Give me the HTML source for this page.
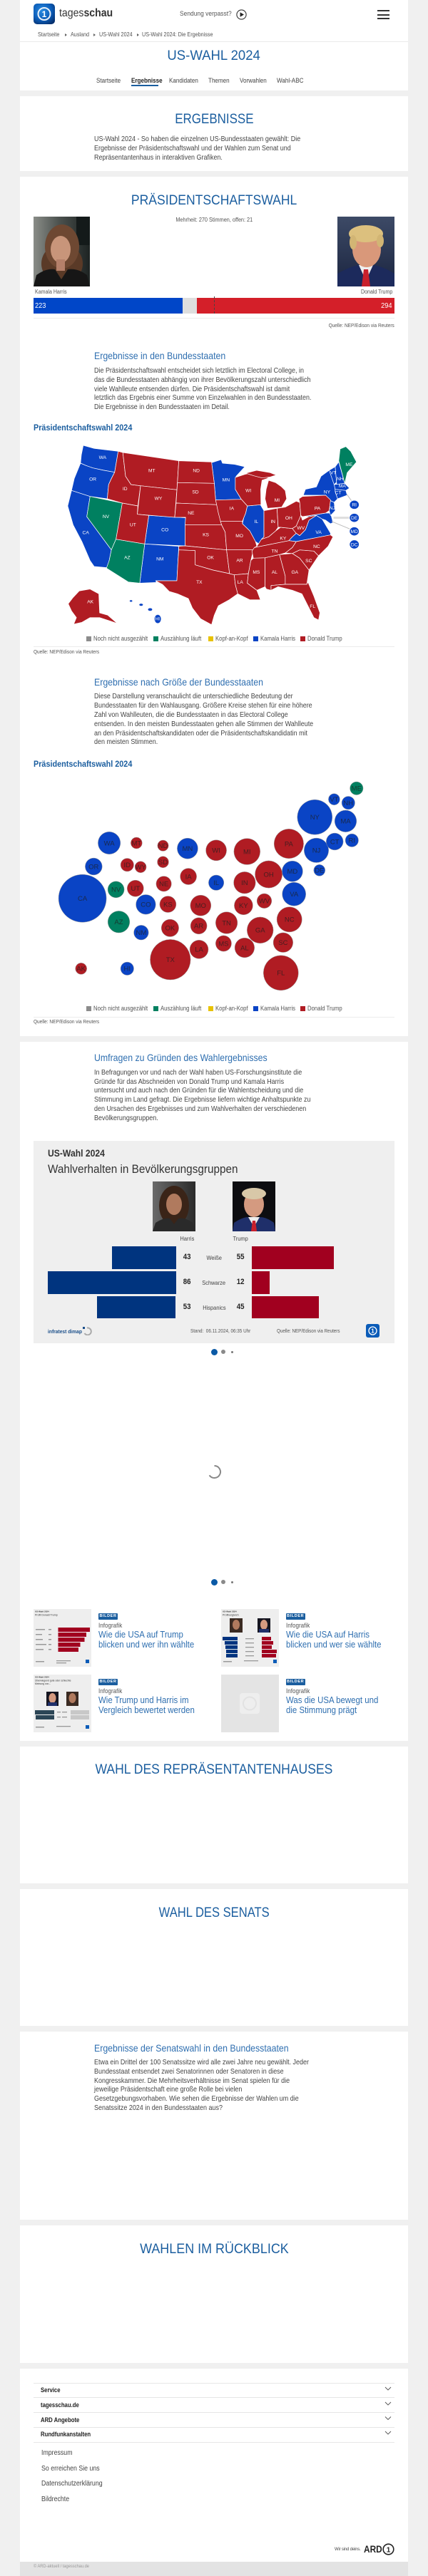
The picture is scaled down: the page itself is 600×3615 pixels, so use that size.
<!DOCTYPE html>
<html><head><meta charset="utf-8">
<style>
*{margin:0;padding:0;box-sizing:border-box}
html,body{width:600px;height:3615px;overflow:hidden;background:#f0f0f0;font-family:"Liberation Sans",Arial,sans-serif;color:#444;position:relative}
.w{position:absolute;left:28px;width:544px;background:#fff}
.t{position:absolute;white-space:nowrap;transform-origin:0 50%;transform:scaleX(.88);line-height:1.2}
.r{position:absolute;white-space:nowrap;transform-origin:100% 50%;transform:scaleX(.88);line-height:1.2;text-align:right}
.c{position:absolute;left:0;width:600px;text-align:center;white-space:nowrap;line-height:1.2}
.c span{display:inline-block;transform-origin:50% 50%}
.h{font-size:19.5px;color:#1b5e9f}
.p{font-size:10.2px;line-height:12.8px;color:#444;transform-origin:0 0}
.sh{font-size:14px;color:#2f6fb0}
.bc{font-size:8.2px;color:#555}
.tri{position:absolute;width:0;height:0;border-left:3px solid #666;border-top:2px solid transparent;border-bottom:2px solid transparent}
.nav{font-size:9.2px;color:#444}
.lg{font-size:8.8px;color:#555}
.sq{position:absolute;width:7px;height:7px}
.src{font-size:7.4px;color:#555}
.line{position:absolute;height:1px;background:#ececec}
.badge{position:absolute;width:27px;height:9px;background:#1b5e9f;color:#fff;font-size:5.5px;font-weight:bold;letter-spacing:.6px;text-align:center;line-height:9px;border-radius:1px}
.inf{font-size:9.2px;color:#555}
.ct{font-size:13px;line-height:14px;color:#2f6fb0;transform-origin:0 0}
.acc{font-size:8.8px;font-weight:bold;color:#222}
.lk{font-size:10px;color:#444}
.num{font-size:11px;font-weight:bold;color:#222}
.rl{font-size:8.5px;color:#444}
</style></head><body>

<!-- white panels -->
<div class="w" style="top:0;height:127px"></div>
<div class="line" style="left:28px;width:544px;top:58px;background:#e9e9e9"></div>
<div class="w" style="top:135px;height:105px"></div>
<div class="w" style="top:248px;height:1206px"></div>
<div class="w" style="top:1462px;height:981px"></div>
<div class="w" style="top:2451px;height:192px"></div>
<div class="w" style="top:2651px;height:192px"></div>
<div class="w" style="top:2851px;height:264px"></div>
<div class="w" style="top:3123px;height:193px"></div>
<div class="w" style="top:3324px;height:271px"></div>
<div style="position:absolute;left:28px;width:544px;top:3595px;height:20px;background:#e3e3e3"></div>

<!-- header -->
<svg style="position:absolute;left:47px;top:5px" width="30" height="29" viewBox="0 0 30 29">
<defs><radialGradient id="lgb" cx="40%" cy="35%" r="75%"><stop offset="0" stop-color="#2a8be0"/><stop offset=".6" stop-color="#0b5cb8"/><stop offset="1" stop-color="#06306e"/></radialGradient></defs>
<rect width="30" height="29" rx="5" fill="url(#lgb)"/>
<circle cx="15" cy="14.5" r="8.5" fill="none" stroke="#fff" stroke-width="2" opacity=".9"/>
<text x="15" y="19" font-size="12" font-weight="bold" fill="#fff" text-anchor="middle" font-family="Liberation Sans">1</text>
</svg>
<div class="t" style="left:83px;top:9.4px;font-size:16px;color:#333">tages<b>schau</b></div>
<div class="t" style="left:252px;top:14.2px;font-size:9.6px;color:#555">Sendung verpasst?</div>
<svg style="position:absolute;left:331px;top:13px" width="15" height="15" viewBox="0 0 15 15"><circle cx="7.5" cy="7.5" r="6.6" fill="none" stroke="#333" stroke-width="1.1"/><path d="M5.6 4.2 L11 7.5 L5.6 10.8Z" fill="#222"/></svg>
<div style="position:absolute;left:529px;top:14px;width:17px;height:2px;background:#333"></div>
<div style="position:absolute;left:529px;top:19.5px;width:17px;height:2px;background:#333"></div>
<div style="position:absolute;left:529px;top:25px;width:17px;height:2px;background:#333"></div>

<div class="t bc" style="left:53px;top:44.1px">Startseite</div>
<div class="tri" style="left:91px;top:47px"></div>
<div class="t bc" style="left:99px;top:44.1px">Ausland</div>
<div class="tri" style="left:131px;top:47px"></div>
<div class="t bc" style="left:139px;top:44.1px">US-Wahl 2024</div>
<div class="tri" style="left:192px;top:47px"></div>
<div class="t bc" style="left:199px;top:44.1px">US-Wahl 2024: Die Ergebnisse</div>

<div class="c h" style="top:67.3px"><span style="transform:scaleX(.95)">US-WAHL 2024</span></div>
<div class="t nav" style="left:135px;top:107.5px">Startseite</div>
<div class="t nav" style="left:184px;top:107.5px;font-weight:bold;color:#222">Ergebnisse</div>
<div style="position:absolute;left:184px;top:119px;width:38px;height:2px;background:#1b5e9f"></div>
<div class="t nav" style="left:237px;top:107.5px">Kandidaten</div>
<div class="t nav" style="left:292px;top:107.5px">Themen</div>
<div class="t nav" style="left:336px;top:107.5px">Vorwahlen</div>
<div class="t nav" style="left:388px;top:107.5px">Wahl-ABC</div>

<!-- ERGEBNISSE -->
<div class="c h" style="top:156.3px"><span style="transform:scaleX(.87)">ERGEBNISSE</span></div>
<div class="t p" style="left:132px;top:190.1px">US-Wahl 2024 - So haben die einzelnen US-Bundesstaaten gewählt: Die<br>Ergebnisse der Präsidentschaftswahl und der Wahlen zum Senat und<br>Repräsentantenhaus in interaktiven Grafiken.</div>

<!-- PRÄSIDENTSCHAFTSWAHL -->
<div class="c h" style="top:270.3px"><span style="transform:scaleX(.9)">PRÄSIDENTSCHAFTSWAHL</span></div>
<div class="c" style="top:304px;font-size:8.3px;color:#555"><span style="transform:scaleX(.88)">Mehrheit: 270 Stimmen, offen: 21</span></div>

<svg style="position:absolute;left:47px;top:304px" width="79" height="98" viewBox="0 0 79 98">
<defs><linearGradient id="hb" x1="0" x2="1"><stop offset="0" stop-color="#8a8d88"/><stop offset=".45" stop-color="#4c524f"/><stop offset="1" stop-color="#1d2322"/></linearGradient></defs>
<rect width="79" height="98" fill="url(#hb)"/>
<rect x="60" y="0" width="19" height="40" fill="#141a1a"/>
<ellipse cx="40" cy="66" rx="29" ry="28" fill="#5a3a27"/>
<ellipse cx="40" cy="42" rx="24" ry="31" fill="#6e4832"/>
<ellipse cx="38" cy="46" rx="14" ry="19" fill="#c8957a"/>
<rect x="32" y="60" width="12" height="16" fill="#b5806a"/>
<path d="M0 98 L4 82 Q18 72 30 74 L39 88 L48 74 Q62 72 75 82 L79 98Z" fill="#161616"/>
</svg>
<svg style="position:absolute;left:473px;top:304px" width="80" height="98" viewBox="0 0 80 98">
<defs><linearGradient id="tb" x1="0" x2="0" y1="0" y2="1"><stop offset="0" stop-color="#3d4a66"/><stop offset="1" stop-color="#1b2540"/></linearGradient></defs>
<rect width="80" height="98" fill="url(#tb)"/>
<path d="M0 98 L0 80 Q18 70 30 68 L40 90 L50 68 Q64 70 80 80 L80 98Z" fill="#1c2a5c"/>
<path d="M30 68 L40 90 L50 68Z" fill="#eeeeee"/>
<path d="M37 74 L43 74 L46 98 L34 98Z" fill="#c8202c"/>
<ellipse cx="41" cy="46" rx="20" ry="25" fill="#d9987a"/>
<ellipse cx="40" cy="24" rx="24" ry="12" fill="#dcc07e"/>
<ellipse cx="22" cy="36" rx="5" ry="10" fill="#d2b574"/>
<ellipse cx="60" cy="34" rx="5" ry="9" fill="#d2b574"/>
</svg>
<div class="t" style="left:49px;top:405.2px;font-size:8px;color:#555">Kamala Harris</div>
<div class="r" style="right:50px;top:405.2px;font-size:8px;color:#555">Donald Trump</div>
<div style="position:absolute;left:47px;top:418px;width:209px;height:22px;background:#0046c8"></div>
<div style="position:absolute;left:256px;top:418px;width:20px;height:22px;background:#dedede"></div>
<div style="position:absolute;left:276px;top:418px;width:277px;height:22px;background:#d41f29"></div>
<div style="position:absolute;left:300px;top:416px;width:0;height:24px;border-left:1px dashed #444"></div>
<div class="t" style="left:49px;top:422.7px;font-size:10.5px;color:#fff">223</div>
<div class="r" style="right:50px;top:422.7px;font-size:10.5px;color:#fff">294</div>
<div class="line" style="left:47px;width:506px;top:446px"></div>
<div class="r src" style="right:47px;top:452.6px">Quelle: NEP/Edison via Reuters</div>

<div class="t sh" style="left:132px;top:490.6px">Ergebnisse in den Bundesstaaten</div>
<div class="t p" style="left:132px;top:515.1px">Die Präsidentschaftswahl entscheidet sich letztlich im Electoral College, in<br>das die Bundesstaaten abhängig von ihrer Bevölkerungszahl unterschiedlich<br>viele Wahlleute entsenden dürfen. Die Präsidentschaftswahl ist damit<br>letztlich das Ergebnis einer Summe von Einzelwahlen in den Bundesstaaten.<br>Die Ergebnisse in den Bundesstaaten im Detail.</div>
<div class="t" style="left:47px;top:592.6px;font-size:12.3px;font-weight:bold;color:#1b5e9f">Präsidentschaftswahl 2024</div>

<!-- MAP -->
<svg style="position:absolute;left:0;top:600px" width="600" height="300" viewBox="0 0 1568 900" preserveAspectRatio="none">
<g stroke="#fff" stroke-width=".7" stroke-linejoin="round">
<g fill="#0a44c5">
<polygon vector-effect="non-scaling-stroke" points="305,75 345,88 433,100 420,188 380,180 340,170 315,160 295,150 298,115"/>
<polygon vector-effect="non-scaling-stroke" points="295,150 315,160 340,170 380,180 420,188 408,215 398,240 393,300 330,290 262,265 272,215"/>
<polygon vector-effect="non-scaling-stroke" points="262,265 330,290 318,375 408,515 400,560 395,590 345,585 330,560 300,480 268,410 248,330"/>
<polygon vector-effect="non-scaling-stroke" points="545,370 680,380 678,498 530,490"/>
<polygon vector-effect="non-scaling-stroke" points="530,490 655,500 648,645 572,645 572,652 512,655"/>
<polygon vector-effect="non-scaling-stroke" points="775,148 810,135 815,150 860,155 897,165 865,205 862,260 884,302 790,305 785,235"/>
<polygon vector-effect="non-scaling-stroke" points="906,330 954,325 967,350 967,460 949,490 936,480 915,435 888,405 893,380 900,360"/>
<polygon vector-effect="non-scaling-stroke" points="1058,476 1071,460 1085,445 1098,455 1119,430 1132,390 1159,370 1180,385 1193,410 1211,445 1211,452 1085,480"/>
<polygon vector-effect="non-scaling-stroke" points="1108,375 1193,360 1211,360 1220,400 1211,405 1193,390 1180,385 1159,370 1132,375"/>
<polygon vector-effect="non-scaling-stroke" points="1206,305 1224,315 1228,350 1211,370 1206,350"/>
<polygon vector-effect="non-scaling-stroke" points="1111,285 1119,260 1159,250 1176,205 1206,180 1224,178 1228,270 1237,300 1224,315 1206,305 1193,285"/>
<polygon vector-effect="non-scaling-stroke" points="1206,180 1228,165 1233,230 1224,240"/>
<polygon vector-effect="non-scaling-stroke" points="1228,165 1241,145 1263,235 1233,240 1233,230"/>
<polygon vector-effect="non-scaling-stroke" points="1224,240 1263,235 1280,255 1267,265 1228,260"/>
<polygon vector-effect="non-scaling-stroke" points="1228,260 1267,265 1272,285 1237,300 1228,270"/>
<ellipse cx="480" cy="730" rx="5" ry="4"/><ellipse cx="517" cy="746" rx="7" ry="5"/><ellipse cx="550" cy="766" rx="8" ry="6"/><ellipse cx="578" cy="806" rx="12" ry="18"/>
</g>
<g fill="#008060">
<polygon vector-effect="non-scaling-stroke" points="330,290 448,318 425,470 408,515 318,375"/>
<polygon vector-effect="non-scaling-stroke" points="425,470 530,490 512,655 470,650 390,592 400,560 408,515"/>
<polygon vector-effect="non-scaling-stroke" points="1241,140 1246,90 1267,80 1285,100 1306,145 1272,190 1263,235"/>
</g>
<g fill="#b01c23">
<polygon vector-effect="non-scaling-stroke" points="433,100 450,105 460,205 480,240 515,245 505,330 448,318 393,300 398,240 408,215 420,188"/>
<polygon vector-effect="non-scaling-stroke" points="450,105 655,140 650,232 648,262 515,245 480,240 460,205"/>
<polygon vector-effect="non-scaling-stroke" points="515,245 648,262 640,378 503,365"/>
<polygon vector-effect="non-scaling-stroke" points="448,318 505,330 503,365 545,370 530,490 425,470"/>
<polygon vector-effect="non-scaling-stroke" points="655,140 775,145 785,235 650,232"/>
<polygon vector-effect="non-scaling-stroke" points="650,232 785,235 790,305 795,325 645,318"/>
<polygon vector-effect="non-scaling-stroke" points="645,318 795,325 808,395 812,410 678,410 680,378 640,378"/>
<polygon vector-effect="non-scaling-stroke" points="678,410 812,410 825,440 830,515 678,498"/>
<polygon vector-effect="non-scaling-stroke" points="655,500 678,498 830,515 841,615 780,600 715,578 715,518 655,515"/>
<polygon vector-effect="non-scaling-stroke" points="655,515 715,518 715,578 780,600 841,615 858,620 862,660 871,700 840,725 800,750 785,790 775,830 735,805 705,760 690,720 650,700 620,690 595,660 570,645 648,645 652,560"/>
<polygon vector-effect="non-scaling-stroke" points="862,210 897,197 925,190 965,205 985,212 960,222 955,260 956,325 906,330 884,302 862,260"/>
<polygon vector-effect="non-scaling-stroke" points="900,192 940,180 990,190 1012,200 990,208 960,212 930,203"/>
<polygon vector-effect="non-scaling-stroke" points="984,222 1010,232 1030,248 1045,265 1050,300 1032,335 980,340 971,300 975,260"/>
<polygon vector-effect="non-scaling-stroke" points="790,305 884,302 906,330 900,360 893,380 888,395 808,395 800,360"/>
<polygon vector-effect="non-scaling-stroke" points="808,395 888,395 888,405 915,435 936,480 941,500 928,515 830,515 825,440 812,410"/>
<polygon vector-effect="non-scaling-stroke" points="830,515 928,515 919,560 910,615 858,620 841,615"/>
<polygon vector-effect="non-scaling-stroke" points="858,620 910,615 906,655 941,685 954,725 915,725 871,700 862,660"/>
<polygon vector-effect="non-scaling-stroke" points="928,550 971,548 971,670 941,685 906,655 910,615 919,560"/>
<polygon vector-effect="non-scaling-stroke" points="971,548 1024,535 1045,625 1045,660 993,665 993,685 976,680 971,670"/>
<polygon vector-effect="non-scaling-stroke" points="1024,535 1071,530 1098,550 1132,600 1124,660 1045,660 1045,625"/>
<polygon vector-effect="non-scaling-stroke" points="993,665 1045,660 1124,660 1128,650 1150,710 1172,780 1167,810 1150,800 1128,750 1106,700 1071,685 1019,670 993,685"/>
<polygon vector-effect="non-scaling-stroke" points="1071,530 1098,515 1150,520 1167,540 1132,600 1098,550"/>
<polygon vector-effect="non-scaling-stroke" points="1045,528 1071,505 1085,480 1211,452 1220,460 1202,500 1167,540 1150,520 1098,515 1071,530"/>
<polygon vector-effect="non-scaling-stroke" points="932,505 1058,476 1085,480 1071,505 1045,528 1024,535 971,548 928,550 923,520"/>
<polygon vector-effect="non-scaling-stroke" points="941,500 958,470 984,460 1010,435 1028,420 1071,425 1085,445 1071,460 1058,476 932,505"/>
<polygon vector-effect="non-scaling-stroke" points="967,350 1015,340 1019,420 1010,435 984,460 958,470 967,460"/>
<polygon vector-effect="non-scaling-stroke" points="1015,340 1045,335 1085,310 1098,315 1102,370 1085,415 1071,425 1028,420 1019,420"/>
<polygon vector-effect="non-scaling-stroke" points="1102,370 1108,390 1132,375 1159,370 1132,390 1119,430 1098,455 1085,445 1071,425 1085,415"/>
<polygon vector-effect="non-scaling-stroke" points="1095,300 1108,290 1193,285 1211,305 1206,350 1193,360 1108,375 1102,370 1098,315"/>
<polygon vector-effect="non-scaling-stroke" points="290,688 330,680 362,700 365,780 395,790 430,825 405,815 365,800 330,800 300,820 270,828 280,800 262,772 250,742 268,715"/>
</g>
</g>
<g stroke="#bbb" stroke-width="1" vector-effect="non-scaling-stroke">
<line x1="1270" y1="280" x2="1290" y2="312" vector-effect="non-scaling-stroke"/>
<line x1="1222" y1="380" x2="1282" y2="380" stroke="#ddd" stroke-width="3" vector-effect="non-scaling-stroke"/>
<line x1="1215" y1="395" x2="1284" y2="428" vector-effect="non-scaling-stroke"/>
</g>
<g fill="#0a44c5" stroke="#fff" stroke-width="1">
<ellipse cx="1298" cy="325" rx="18" ry="19" vector-effect="non-scaling-stroke"/>
<ellipse cx="1298" cy="380" rx="18" ry="19" vector-effect="non-scaling-stroke"/>
<ellipse cx="1298" cy="437" rx="18" ry="19" vector-effect="non-scaling-stroke"/>
<ellipse cx="1298" cy="492" rx="18" ry="19" vector-effect="non-scaling-stroke"/>
</g>
<g font-size="20" fill="#fff" text-anchor="middle" font-family="Liberation Sans, sans-serif">
<text transform="translate(376,132) scale(.871,1)">WA</text>
<text transform="translate(340,223) scale(.871,1)">OR</text>
<text transform="translate(314,449) scale(.871,1)">CA</text>
<text transform="translate(388,381) scale(.871,1)">NV</text>
<text transform="translate(458,264) scale(.871,1)">ID</text>
<text transform="translate(556,188) scale(.871,1)">MT</text>
<text transform="translate(580,305) scale(.871,1)">WY</text>
<text transform="translate(487,415) scale(.871,1)">UT</text>
<text transform="translate(604,436) scale(.871,1)">CO</text>
<text transform="translate(466,553) scale(.871,1)">AZ</text>
<text transform="translate(586,560) scale(.871,1)">NM</text>
<text transform="translate(719,188) scale(.871,1)">ND</text>
<text transform="translate(716,277) scale(.871,1)">SD</text>
<text transform="translate(700,366) scale(.871,1)">NE</text>
<text transform="translate(754,457) scale(.871,1)">KS</text>
<text transform="translate(771,553) scale(.871,1)">OK</text>
<text transform="translate(730,657) scale(.871,1)">TX</text>
<text transform="translate(828,227) scale(.871,1)">MN</text>
<text transform="translate(910,272) scale(.871,1)">WI</text>
<text transform="translate(1015,312) scale(.871,1)">MI</text>
<text transform="translate(849,347) scale(.871,1)">IA</text>
<text transform="translate(939,402) scale(.871,1)">IL</text>
<text transform="translate(1000,402) scale(.871,1)">IN</text>
<text transform="translate(1058,387) scale(.871,1)">OH</text>
<text transform="translate(1163,347) scale(.871,1)">PA</text>
<text transform="translate(1198,277) scale(.871,1)">NY</text>
<text transform="translate(1217,345) scale(.871,1)">NJ</text>
<text transform="translate(1221,197) scale(.871,1)">VT</text>
<text transform="translate(1246,222) scale(.871,1)">NH</text>
<text transform="translate(1254,252) scale(.871,1)">MA</text>
<text transform="translate(1239,280) scale(.871,1)">CT</text>
<text transform="translate(1279,162) scale(.871,1)">ME</text>
<text transform="translate(877,462) scale(.871,1)">MO</text>
<text transform="translate(1037,472) scale(.871,1)">KY</text>
<text transform="translate(1102,429) scale(.871,1)">WV</text>
<text transform="translate(1167,447) scale(.871,1)">VA</text>
<text transform="translate(1160,507) scale(.871,1)">NC</text>
<text transform="translate(1006,527) scale(.871,1)">TN</text>
<text transform="translate(878,565) scale(.871,1)">AR</text>
<text transform="translate(1131,567) scale(.871,1)">SC</text>
<text transform="translate(939,615) scale(.871,1)">MS</text>
<text transform="translate(1006,615) scale(.871,1)">AL</text>
<text transform="translate(1080,615) scale(.871,1)">GA</text>
<text transform="translate(880,657) scale(.871,1)">LA</text>
<text transform="translate(1145,759) scale(.871,1)">FL</text>
<text transform="translate(331,740) scale(.871,1)">AK</text>
<text transform="translate(577,812) scale(.871,1)">HI</text>
<text transform="translate(1298,332) scale(.871,1)">RI</text>
<text transform="translate(1298,387) scale(.871,1)">DE</text>
<text transform="translate(1298,444) scale(.871,1)">MD</text>
<text transform="translate(1298,499) scale(.871,1)">DC</text>
</g>
</svg>

<!-- legend 1 -->
<div class="sq" style="left:121px;top:892.5px;background:#8c8c8c"></div><div class="t lg" style="left:131px;top:890.7px">Noch nicht ausgezählt</div>
<div class="sq" style="left:215px;top:892.5px;background:#008060"></div><div class="t lg" style="left:225px;top:890.7px">Auszählung läuft</div>
<div class="sq" style="left:292px;top:892.5px;background:#e8c200"></div><div class="t lg" style="left:302px;top:890.7px">Kopf-an-Kopf</div>
<div class="sq" style="left:355px;top:892.5px;background:#0a44c5"></div><div class="t lg" style="left:365px;top:890.7px">Kamala Harris</div>
<div class="sq" style="left:421px;top:892.5px;background:#b01c23"></div><div class="t lg" style="left:431px;top:890.7px">Donald Trump</div>
<div class="line" style="left:47px;width:506px;top:907px"></div>
<div class="t src" style="left:47px;top:910.6px">Quelle: NEP/Edison via Reuters</div>

<div class="t sh" style="left:132px;top:948.9px">Ergebnisse nach Größe der Bundesstaaten</div>
<div class="t p" style="left:132px;top:972.4px">Diese Darstellung veranschaulicht die unterschiedliche Bedeutung der<br>Bundesstaaten für den Wahlausgang. Größere Kreise stehen für eine höhere<br>Zahl von Wahlleuten, die die Bundesstaaten in das Electoral College<br>entsenden. In den meisten Bundesstaaten gehen alle Stimmen der Wahlleute<br>an den Präsidentschaftskandidaten oder die Präsidentschaftskandidatin mit<br>den meisten Stimmen.</div>
<div class="t" style="left:47px;top:1065.3px;font-size:12.3px;font-weight:bold;color:#1b5e9f">Präsidentschaftswahl 2024</div>

<!-- bubbles -->
<svg style="position:absolute;left:0;top:1080px" width="600" height="320" viewBox="0 1080 600 320">
<g stroke="#999" stroke-width=".5">
<g fill="#0a44c5">
<circle cx="468.4" cy="1121.7" r="8"/><circle cx="488.3" cy="1126.7" r="9.2"/><circle cx="441.3" cy="1146.7" r="24.5"/><circle cx="484.5" cy="1152.3" r="15.3"/>
<circle cx="153.1" cy="1183" r="15.7"/><circle cx="262.9" cy="1190.7" r="14.5"/><circle cx="443.5" cy="1193.3" r="17.2"/><circle cx="469.2" cy="1181" r="11.9"/><circle cx="493.3" cy="1179.3" r="9.2"/>
<circle cx="131.3" cy="1216" r="11.9"/><circle cx="115.6" cy="1260.7" r="33.5"/><circle cx="303.1" cy="1238.7" r="10.7"/><circle cx="409.9" cy="1222.7" r="14.5"/><circle cx="447.8" cy="1221.3" r="8"/>
<circle cx="204.4" cy="1269.3" r="13.8"/><circle cx="412.2" cy="1254.7" r="16.5"/><circle cx="197.9" cy="1308.7" r="10.3"/><circle cx="178.3" cy="1359.3" r="9.2"/>
</g>
<g fill="#008060">
<circle cx="499.8" cy="1106.3" r="9.2"/><circle cx="162.6" cy="1248.3" r="11.5"/><circle cx="166.5" cy="1293.7" r="15.3"/>
</g>
<g fill="#b01c23">
<circle cx="191.3" cy="1183" r="8"/><circle cx="228.5" cy="1186.7" r="7.7"/><circle cx="303.1" cy="1193.3" r="14.5"/><circle cx="346.3" cy="1195" r="18.4"/><circle cx="404.9" cy="1184" r="20.7"/>
<circle cx="178.3" cy="1213.7" r="9.2"/><circle cx="197.1" cy="1216.7" r="8"/><circle cx="228.5" cy="1209.7" r="8"/><circle cx="189.8" cy="1246.7" r="11.5"/><circle cx="264.1" cy="1230" r="11.5"/><circle cx="229.6" cy="1240.3" r="10.7"/>
<circle cx="342.9" cy="1238.7" r="15.3"/><circle cx="376.6" cy="1227" r="19.1"/><circle cx="235.4" cy="1269" r="11.5"/><circle cx="281.3" cy="1270.7" r="14.5"/><circle cx="341.4" cy="1270.7" r="13"/><circle cx="370.5" cy="1264.3" r="10.3"/>
<circle cx="238.4" cy="1302.3" r="12.2"/><circle cx="278.6" cy="1299.3" r="11.5"/><circle cx="317.6" cy="1295" r="15.3"/><circle cx="364.7" cy="1305.3" r="18.4"/><circle cx="405.7" cy="1290.3" r="17.6"/><circle cx="396.9" cy="1322.7" r="13.8"/>
<circle cx="313.4" cy="1324" r="11.1"/><circle cx="342.9" cy="1330" r="13.8"/><circle cx="279" cy="1332.3" r="13"/><circle cx="238.8" cy="1346.7" r="28.3"/><circle cx="393.8" cy="1365.3" r="24.5"/><circle cx="113.7" cy="1359.3" r="8"/>
</g>
</g>
<g font-size="9.5" fill="#1e1e1e" fill-opacity=".72" text-anchor="middle" font-family="Liberation Sans, sans-serif">
<text x="499.8" y="1109.7">ME</text><text x="468.4" y="1125.1">VT</text><text x="488.3" y="1130.1">NH</text><text x="441.3" y="1150.1">NY</text><text x="484.5" y="1155.7">MA</text>
<text x="153.1" y="1186.4">WA</text><text x="191.3" y="1186.4">MT</text><text x="228.5" y="1190.1">ND</text><text x="262.9" y="1194.1">MN</text><text x="303.1" y="1196.7">WI</text><text x="346.3" y="1198.4">MI</text><text x="404.9" y="1187.4">PA</text><text x="443.5" y="1196.7">NJ</text><text x="469.2" y="1184.4">CT</text><text x="493.3" y="1182.7">RI</text>
<text x="131.3" y="1219.4">OR</text><text x="178.3" y="1217.1">ID</text><text x="197.1" y="1220.1">WY</text><text x="228.5" y="1213.1">SD</text><text x="115.6" y="1264.1">CA</text><text x="162.6" y="1251.7">NV</text><text x="189.8" y="1250.1">UT</text><text x="264.1" y="1233.4">IA</text><text x="229.6" y="1243.7">NE</text><text x="303.1" y="1242.1">IL</text><text x="342.9" y="1242.1">IN</text><text x="376.6" y="1230.4">OH</text><text x="409.9" y="1226.1">MD</text><text x="447.8" y="1224.7">DE</text>
<text x="204.4" y="1272.7">CO</text><text x="235.4" y="1272.4">KS</text><text x="281.3" y="1274.1">MO</text><text x="341.4" y="1274.1">KY</text><text x="370.5" y="1267.7">WV</text><text x="412.2" y="1258.1">VA</text>
<text x="166.5" y="1297.1">AZ</text><text x="197.9" y="1312.1">NM</text><text x="238.4" y="1305.7">OK</text><text x="278.6" y="1302.7">AR</text><text x="317.6" y="1298.4">TN</text><text x="364.7" y="1308.7">GA</text><text x="405.7" y="1293.7">NC</text><text x="396.9" y="1326.1">SC</text>
<text x="313.4" y="1327.4">MS</text><text x="342.9" y="1333.4">AL</text><text x="279" y="1335.7">LA</text><text x="238.8" y="1350.1">TX</text><text x="393.8" y="1368.7">FL</text><text x="113.7" y="1362.7">AK</text><text x="178.3" y="1362.7">HI</text>
</g>
</svg>

<!-- legend 2 -->
<div class="sq" style="left:121px;top:1412.2px;background:#8c8c8c"></div><div class="t lg" style="left:131px;top:1410.4px">Noch nicht ausgezählt</div>
<div class="sq" style="left:215px;top:1412.2px;background:#008060"></div><div class="t lg" style="left:225px;top:1410.4px">Auszählung läuft</div>
<div class="sq" style="left:292px;top:1412.2px;background:#e8c200"></div><div class="t lg" style="left:302px;top:1410.4px">Kopf-an-Kopf</div>
<div class="sq" style="left:355px;top:1412.2px;background:#0a44c5"></div><div class="t lg" style="left:365px;top:1410.4px">Kamala Harris</div>
<div class="sq" style="left:421px;top:1412.2px;background:#b01c23"></div><div class="t lg" style="left:431px;top:1410.4px">Donald Trump</div>
<div class="line" style="left:47px;width:506px;top:1427px"></div>
<div class="t src" style="left:47px;top:1430.3px">Quelle: NEP/Edison via Reuters</div>

<!-- Umfragen -->
<div class="t sh" style="left:132px;top:1476.3px">Umfragen zu Gründen des Wahlergebnisses</div>
<div class="t p" style="left:132px;top:1499.8px">In Befragungen vor und nach der Wahl haben US-Forschungsinstitute die<br>Gründe für das Abschneiden von Donald Trump und Kamala Harris<br>untersucht und auch nach den Gründen für die Wahlentscheidung und die<br>Stimmung im Land gefragt. Die Ergebnisse liefern wichtige Anhaltspunkte zu<br>den Ursachen des Ergebnisses und zum Wahlverhalten der verschiedenen<br>Bevölkerungsgruppen.</div>

<div style="position:absolute;left:47px;top:1601px;width:506px;height:284px;background:#efefef"></div>
<div class="t" style="left:67px;top:1611.2px;font-size:13.5px;font-weight:bold;color:#333;transform:scaleX(.9)">US-Wahl 2024</div>
<div class="t" style="left:67px;top:1630.5px;font-size:17px;color:#333;transform:scaleX(.9)">Wahlverhalten in Bevölkerungsgruppen</div>
<svg style="position:absolute;left:214px;top:1658px" width="60" height="70" viewBox="0 0 60 70">
<defs><linearGradient id="h2" x1="0" x2="1"><stop offset="0" stop-color="#6a6a6a"/><stop offset="1" stop-color="#2a2a2a"/></linearGradient></defs>
<rect width="60" height="70" fill="url(#h2)"/>
<ellipse cx="30" cy="34" rx="21" ry="28" fill="#3a2418"/>
<ellipse cx="30" cy="32" rx="11" ry="15" fill="#b07a5e"/>
<path d="M0 70 L4 58 Q16 50 24 52 L30 60 L36 52 Q46 50 56 58 L60 70Z" fill="#2a2a2a"/>
</svg>
<svg style="position:absolute;left:326px;top:1658px" width="60" height="70" viewBox="0 0 60 70">
<rect width="60" height="70" fill="#0d0d10"/>
<path d="M0 70 L2 58 Q14 50 22 50 L30 64 L38 50 Q48 50 58 58 L60 70Z" fill="#1f2f6a"/>
<path d="M22 50 L30 64 L38 50Z" fill="#eee"/>
<path d="M28 55 L32 55 L34 70 L26 70Z" fill="#c8202c"/>
<ellipse cx="30" cy="32" rx="14" ry="18" fill="#d49a80"/>
<ellipse cx="30" cy="17" rx="17" ry="8" fill="#d8c8a8"/>
</svg>
<div class="c" style="left:-37.5px;top:1732.9px;font-size:8.5px;color:#444;width:600px"><span style="transform:scaleX(.88)">Harris</span></div>
<div class="c" style="left:37.5px;top:1732.9px;font-size:8.5px;color:#444;width:600px"><span style="transform:scaleX(.88)">Trump</span></div>

<div style="position:absolute;left:157px;top:1749.3px;width:89.5px;height:31.7px;background:#00347f"></div>
<div style="position:absolute;left:352.8px;top:1749.3px;width:115.2px;height:31.7px;background:#a1001f"></div>
<div style="position:absolute;left:67px;top:1784.3px;width:179.5px;height:31.4px;background:#00347f"></div>
<div style="position:absolute;left:352.8px;top:1784.3px;width:25.2px;height:31.4px;background:#a1001f"></div>
<div style="position:absolute;left:135.9px;top:1819px;width:110.6px;height:31.3px;background:#00347f"></div>
<div style="position:absolute;left:352.8px;top:1819px;width:94.2px;height:31.3px;background:#a1001f"></div>
<div class="c num" style="left:-37.5px;top:1758.4px"><span style="transform:scaleX(.88)">43</span></div>
<div class="c rl" style="top:1759.9px"><span style="transform:scaleX(.88)">Weiße</span></div>
<div class="c num" style="left:37px;top:1758.4px"><span style="transform:scaleX(.88)">55</span></div>
<div class="c num" style="left:-37.5px;top:1793.4px"><span style="transform:scaleX(.88)">86</span></div>
<div class="c rl" style="top:1794.9px"><span style="transform:scaleX(.88)">Schwarze</span></div>
<div class="c num" style="left:37px;top:1793.4px"><span style="transform:scaleX(.88)">12</span></div>
<div class="c num" style="left:-37.5px;top:1828.1px"><span style="transform:scaleX(.88)">53</span></div>
<div class="c rl" style="top:1829.6px"><span style="transform:scaleX(.88)">Hispanics</span></div>
<div class="c num" style="left:37px;top:1828.1px"><span style="transform:scaleX(.88)">45</span></div>

<div class="t" style="left:66.6px;top:1863.5px;font-size:7.6px;font-weight:bold;color:#1b4f8a">infratest dimap</div>
<svg style="position:absolute;left:116px;top:1862px" width="13" height="12" viewBox="0 0 13 12"><rect x="0" y="0" width="3" height="3" fill="#1b4f8a"/><path d="M6 1.5 A5 5 0 1 1 2.5 9" fill="none" stroke="#aaa" stroke-width="2"/></svg>
<div class="t" style="left:267px;top:1863.7px;font-size:7.2px;color:#555">Stand:&nbsp; 06.11.2024, 06:35 Uhr</div>
<div class="t" style="left:387.7px;top:1863.7px;font-size:7.1px;color:#555">Quelle: NEP/Edison via Reuters</div>
<svg style="position:absolute;left:513px;top:1858px" width="19" height="19" viewBox="0 0 19 19"><rect width="19" height="19" rx="3" fill="#0b5cb8"/><circle cx="9.5" cy="9.5" r="5.5" fill="none" stroke="#fff" stroke-width="1.3"/><text x="9.5" y="12.3" font-size="8" font-weight="bold" fill="#fff" text-anchor="middle" font-family="Liberation Sans">1</text></svg>

<!-- dots -->
<div style="position:absolute;left:295.5px;top:1892.5px;width:9px;height:9px;border-radius:50%;background:#0b5aa6"></div>
<div style="position:absolute;left:309.7px;top:1894px;width:6px;height:6px;border-radius:50%;background:#8a8a8a"></div>
<div style="position:absolute;left:324.2px;top:1895.5px;width:3px;height:3px;border-radius:50%;background:#777"></div>

<svg style="position:absolute;left:289.5px;top:2054.5px" width="21" height="21" viewBox="0 0 21 21"><path d="M10.5 2 A8.5 8.5 0 1 1 3.5 15.3" fill="none" stroke="#888" stroke-width="2"/></svg>

<div style="position:absolute;left:295.5px;top:2215.5px;width:9px;height:9px;border-radius:50%;background:#0b5aa6"></div>
<div style="position:absolute;left:309.7px;top:2217px;width:6px;height:6px;border-radius:50%;background:#8a8a8a"></div>
<div style="position:absolute;left:324.2px;top:2218.5px;width:3px;height:3px;border-radius:50%;background:#777"></div>

<!-- teaser cards -->
<svg style="position:absolute;left:47px;top:2258px" width="81" height="81" viewBox="0 0 81 81">
<rect width="81" height="81" fill="#eeeeee"/>
<text x="2" y="4.5" font-size="3" font-weight="bold" fill="#333" font-family="Liberation Sans">US-Wahl 2024</text>
<text x="2" y="9.5" font-size="3.6" fill="#333" font-family="Liberation Sans">Profil Donald Trump</text>
<g fill="#a1001f"><rect x="34.5" y="26" width="44.5" height="6"/><rect x="34.5" y="33" width="39.5" height="6"/><rect x="34.5" y="40" width="37" height="6"/><rect x="34.5" y="47" width="31" height="6"/><rect x="34.5" y="54" width="28.5" height="6"/></g>
<g fill="#999"><rect x="3" y="28" width="13" height="1.5"/><rect x="3" y="35" width="9" height="1.5"/><rect x="3" y="42" width="10" height="1.5"/><rect x="3" y="49" width="15" height="1.5"/><rect x="3" y="56" width="11" height="1.5"/>
<rect x="21" y="28" width="4" height="1.5"/><rect x="21" y="35" width="4" height="1.5"/><rect x="21" y="42" width="4" height="1.5"/><rect x="21" y="49" width="4" height="1.5"/><rect x="21" y="56" width="4" height="1.5"/>
<rect x="3" y="73" width="12" height="1.5"/><rect x="32" y="72" width="20" height="1.3"/><rect x="32" y="75" width="14" height="1.3"/></g>
<rect x="73" y="71" width="5" height="5" fill="#0b5cb8"/>
</svg>
<div class="badge" style="left:138px;top:2263.7px">BILDER</div>
<div class="t inf" style="left:138px;top:2275.5px">Infografik</div>
<div class="t ct" style="left:138px;top:2286.8px">Wie die USA auf Trump<br>blicken und wer ihn wählte</div>

<svg style="position:absolute;left:310px;top:2258px" width="81" height="81" viewBox="0 0 81 81">
<rect width="81" height="81" fill="#eeeeee"/>
<text x="2" y="4.5" font-size="3" font-weight="bold" fill="#333" font-family="Liberation Sans">US-Wahl 2024</text>
<text x="2" y="9.5" font-size="3.6" fill="#333" font-family="Liberation Sans">Profilvergleich</text>
<rect x="12" y="13" width="18" height="20" fill="#3a2a22"/><ellipse cx="21" cy="22" rx="5" ry="7" fill="#b07a5e"/>
<rect x="51" y="13" width="18" height="20" fill="#151520"/><ellipse cx="60" cy="22" rx="5" ry="7" fill="#d49a80"/><rect x="53" y="28" width="14" height="5" fill="#1f2f6a"/>
<g fill="#00347f"><rect x="2" y="39" width="21" height="5"/><rect x="5" y="45" width="18" height="5"/><rect x="6" y="51" width="17" height="5"/><rect x="7" y="57" width="16" height="5"/><rect x="7" y="63" width="16" height="5"/></g>
<g fill="#a1001f"><rect x="57" y="39" width="13" height="5"/><rect x="57" y="45" width="16" height="5"/><rect x="57" y="51" width="14" height="5"/><rect x="57" y="57" width="21" height="5"/><rect x="57" y="63" width="20" height="5"/></g>
<g fill="#999"><rect x="34" y="41" width="12" height="1.3"/><rect x="34" y="47" width="12" height="1.3"/><rect x="34" y="53" width="12" height="1.3"/><rect x="34" y="59" width="12" height="1.3"/><rect x="34" y="65" width="12" height="1.3"/><rect x="3" y="73" width="12" height="1.5"/><rect x="32" y="72" width="20" height="1.3"/></g>
<rect x="73" y="71" width="5" height="5" fill="#0b5cb8"/>
</svg>
<div class="badge" style="left:400.7px;top:2263.7px">BILDER</div>
<div class="t inf" style="left:400.7px;top:2275.5px">Infografik</div>
<div class="t ct" style="left:400.7px;top:2286.8px">Wie die USA auf Harris<br>blicken und wer sie wählte</div>

<svg style="position:absolute;left:47px;top:2350px" width="81" height="81" viewBox="0 0 81 81">
<rect width="81" height="81" fill="#eeeeee"/>
<text x="2" y="4.5" font-size="3" font-weight="bold" fill="#333" font-family="Liberation Sans">US-Wahl 2024</text>
<text x="2" y="9.5" font-size="3.4" fill="#333" font-family="Liberation Sans">Überwiegend gute oder schlechte</text>
<text x="2" y="14" font-size="3.4" fill="#333" font-family="Liberation Sans">Meinung von...</text>
<rect x="18" y="24" width="17" height="20" fill="#151520"/><ellipse cx="26.5" cy="33" rx="5" ry="7" fill="#d49a80"/><rect x="20" y="39" width="13" height="5" fill="#1f2f6a"/>
<rect x="46" y="24" width="17" height="20" fill="#3a2a22"/><ellipse cx="54.5" cy="33" rx="5" ry="7" fill="#b07a5e"/>
<g fill="#2c4656"><rect x="2" y="50" width="27" height="6"/><rect x="3" y="57" width="26" height="6"/></g>
<g fill="#c8c8c8"><rect x="52" y="50" width="26" height="6"/><rect x="52" y="57" width="26" height="6"/></g>
<g fill="#999"><rect x="33" y="52" width="5" height="1.3"/><rect x="40" y="52" width="7" height="1.3"/><rect x="33" y="59" width="5" height="1.3"/><rect x="40" y="59" width="7" height="1.3"/><rect x="3" y="73" width="12" height="1.5"/><rect x="32" y="72" width="20" height="1.3"/></g>
<rect x="73" y="71" width="5" height="5" fill="#0b5cb8"/>
</svg>
<div class="badge" style="left:138px;top:2356px">BILDER</div>
<div class="t inf" style="left:138px;top:2367.8px">Infografik</div>
<div class="t ct" style="left:138px;top:2379.1px">Wie Trump und Harris im<br>Vergleich bewertet werden</div>

<svg style="position:absolute;left:310px;top:2350px" width="81" height="81" viewBox="0 0 81 81">
<rect width="81" height="81" fill="#e4e4e4"/>
<rect x="26" y="26" width="28" height="29" rx="4" fill="#eeeeee"/>
<circle cx="40" cy="40.5" r="9" fill="none" stroke="#e2e2e2" stroke-width="2"/>
</svg>
<div class="badge" style="left:400.7px;top:2356px">BILDER</div>
<div class="t inf" style="left:400.7px;top:2367.8px">Infografik</div>
<div class="t ct" style="left:400.7px;top:2379.1px">Was die USA bewegt und<br>die Stimmung prägt</div>

<!-- section headings -->
<div class="c h" style="top:2472.3px"><span style="transform:scaleX(.9)">WAHL DES REPRÄSENTANTENHAUSES</span></div>
<div class="c h" style="top:2672.6px"><span style="transform:scaleX(.85)">WAHL DES SENATS</span></div>

<div class="t sh" style="left:132px;top:2865.6px">Ergebnisse der Senatswahl in den Bundesstaaten</div>
<div class="t p" style="left:132px;top:2889.1px">Etwa ein Drittel der 100 Senatssitze wird alle zwei Jahre neu gewählt. Jeder<br>Bundesstaat entsendet zwei Senatorinnen oder Senatoren in diese<br>Kongresskammer. Die Mehrheitsverhältnisse im Senat spielen für die<br>jeweilige Präsidentschaft eine große Rolle bei vielen<br>Gesetzgebungsvorhaben. Wie sehen die Ergebnisse der Wahlen um die<br>Senatssitze 2024 in den Bundesstaaten aus?</div>

<div class="c h" style="top:3145px"><span style="transform:scaleX(.92)">WAHLEN IM RÜCKBLICK</span></div>

<!-- footer -->
<div class="line" style="left:47px;width:506px;top:3343.7px;background:#e6e6e6"></div>
<div class="line" style="left:47px;width:506px;top:3364.3px;background:#e6e6e6"></div>
<div class="line" style="left:47px;width:506px;top:3385.3px;background:#e6e6e6"></div>
<div class="line" style="left:47px;width:506px;top:3406.3px;background:#e6e6e6"></div>
<div class="line" style="left:47px;width:506px;top:3426.7px;background:#e6e6e6"></div>
<div class="t acc" style="left:57px;top:3349px">Service</div>
<div class="t acc" style="left:57px;top:3370px">tagesschau.de</div>
<div class="t acc" style="left:57px;top:3390.7px">ARD Angebote</div>
<div class="t acc" style="left:57px;top:3411.4px">Rundfunkanstalten</div>
<svg style="position:absolute;left:539px;top:3349px" width="10" height="80" viewBox="0 0 10 80">
<g fill="none" stroke="#555" stroke-width=".9"><polyline points="1,1 5,5 9,1"/><polyline points="1,22 5,26 9,22"/><polyline points="1,42.5 5,46.5 9,42.5"/><polyline points="1,63 5,67 9,63"/></g>
</svg>
<div class="t lk" style="left:58px;top:3437px">Impressum</div>
<div class="t lk" style="left:58px;top:3458.7px">So erreichen Sie uns</div>
<div class="t lk" style="left:58px;top:3480.3px">Datenschutzerklärung</div>
<div class="t lk" style="left:58px;top:3502px">Bildrechte</div>

<div class="t" style="left:469px;top:3574px;font-size:6.8px;color:#444;letter-spacing:-.2px">Wir sind deins.</div>
<div class="t" style="left:510px;top:3569.5px;font-size:13.5px;font-weight:bold;color:#222">ARD</div>
<svg style="position:absolute;left:536px;top:3569px" width="17" height="17" viewBox="0 0 17 17"><circle cx="8.5" cy="8.5" r="7.3" fill="none" stroke="#222" stroke-width="1.6"/><text x="8.5" y="12.3" font-size="10" font-weight="bold" fill="#222" text-anchor="middle" font-family="Liberation Sans">1</text></svg>

<div class="t" style="left:47px;top:3598px;font-size:6.5px;color:#999">© ARD-aktuell / tagesschau.de</div>

</body></html>
